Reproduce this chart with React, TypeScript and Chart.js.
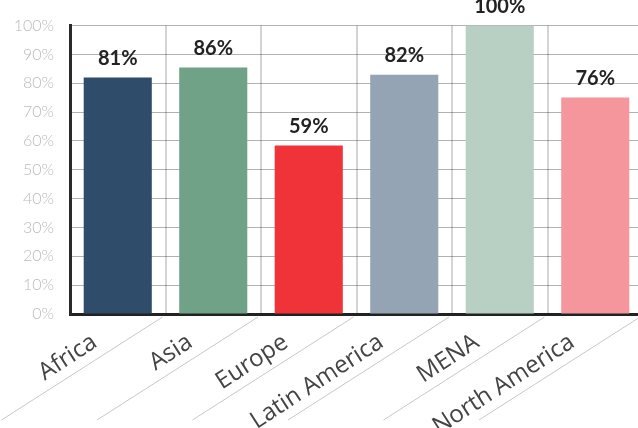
import React, { useEffect, useRef } from "react";
import { Chart, registerables } from "chart.js";

Chart.register(...registerables);

const categories = ["Africa", "Asia", "Europe", "Latin America", "MENA", "North America"];
const barValues = [82, 85.5, 58.4, 83, 100, 75.1];
const valueLabels = ["81%", "86%", "59%", "82%", "100%", "76%"];
const barColors = ["#2f4d6b", "#6fa287", "#ef3338", "#94a4b4", "#b8d0c3", "#f4969b"];
const yTicks = [0, 10, 20, 30, 40, 50, 60, 70, 80, 90, 100];

const valueLabelPlugin = {
  id: "valueLabels",
  afterDatasetsDraw(chart: any) {
    const ctx = chart.ctx;
    const meta = chart.getDatasetMeta(0);
    ctx.save();
    ctx.font = "bold 20px Lato";
    ctx.fillStyle = "#222";
    ctx.textAlign = "center";
    ctx.textBaseline = "middle";
    meta.data.forEach((bar: any, i: number) => {
      ctx.fillText(valueLabels[i], bar.x, bar.y - 19);
    });
    ctx.restore();
  },
};

const diagonalPlugin = {
  id: "diagonalTicks",
  afterDraw(chart: any) {
    const ctx = chart.ctx;
    const x = chart.scales.x;
    const bottom = chart.chartArea.bottom;
    const half = (x.getPixelForValue(1) - x.getPixelForValue(0)) / 2;
    ctx.save();
    ctx.strokeStyle = "#c8c8c8";
    ctx.lineWidth = 1;
    for (let i = 0; i < categories.length; i++) {
      const bx = x.getPixelForValue(i) + half;
      ctx.beginPath();
      ctx.moveTo(bx - 3, bottom + 3);
      ctx.lineTo(bx - 164, bottom + 106);
      ctx.stroke();
    }
    ctx.restore();
  },
};

export default function App() {
  const ref = useRef<HTMLCanvasElement>(null);
  useEffect(() => {
    if (!ref.current) return;
    const chart = new Chart(ref.current, {
      type: "bar",
      data: {
        labels: categories,
        datasets: [
          {
            data: barValues,
            backgroundColor: barColors,
            borderWidth: 0,
            barPercentage: 0.713,
            categoryPercentage: 1,
          },
        ],
      },
      options: {
        animation: false,
        responsive: false,
        devicePixelRatio: 1,
        layout: { padding: { top: 24, right: 3, left: 0, bottom: 0 } },
        plugins: { legend: { display: false }, tooltip: { enabled: false } },
        scales: {
          x: {
            z: 1,
            grid: { offset: true, color: "rgba(0,0,0,0.17)", lineWidth: 2, drawTicks: false },
            border: { display: true, color: "#222", width: 3 },
            ticks: {
              minRotation: 33,
              maxRotation: 33,
              autoSkip: false,
              padding: 14,
              labelOffset: -23,
              color: "#444",
              font: { family: "'Open Sans'", size: 24 },
            },
            afterFit: (s: any) => {
              s.height = 114;
            },
          },
          y: {
            z: 1,
            min: 0,
            max: 100,
            afterBuildTicks: (s: any) => {
              s.ticks = yTicks.map((v) => ({ value: v }));
            },
            grid: { color: "rgba(0,0,0,0.3)", lineWidth: 1, drawTicks: false },
            border: { display: true, color: "#2a2a2a", width: 3 },
            ticks: {
              padding: 16,
              color: "#bbb",
              font: { family: "Lato", size: 16, weight: "300" },
              callback: (v: any) => v + "%",
            },
            afterFit: (s: any) => {
              s.width = 70;
            },
          },
        },
      },
      plugins: [valueLabelPlugin, diagonalPlugin],
    });
    return () => chart.destroy();
  }, []);
  return (
    <div style={{ position: "fixed", left: 0, top: 0, width: 638, height: 428, overflow: "hidden", background: "#fff" }}>
      <canvas ref={ref} width={646} height={428} style={{ width: 646, height: 428, display: "block" }} />
    </div>
  );
}
